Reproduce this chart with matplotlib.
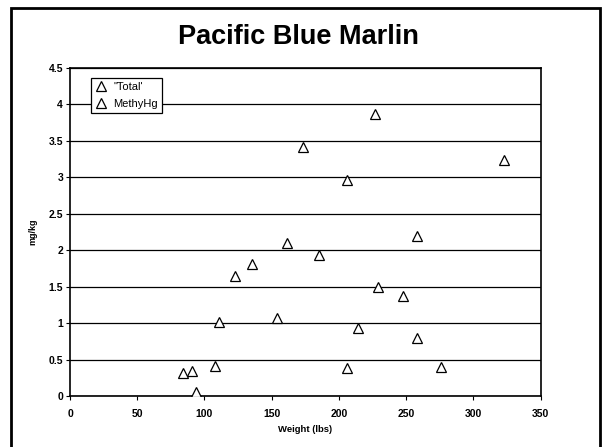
import matplotlib.pyplot as plt
from matplotlib.patches import Rectangle

plt.rcParams['font.family'] = ['Liberation Sans', 'DejaVu Sans']

# --- data ---
weight_lbs = [84, 91, 94, 108, 111, 123, 135, 154, 161, 173, 185,
              206, 206, 214, 227, 229, 248, 258, 258, 276, 323]
hg_mgkg = [0.31, 0.35, 0.055, 0.41, 1.02, 1.65, 1.81, 1.07, 2.10, 3.42, 1.93,
           2.96, 0.39, 0.935, 3.87, 1.50, 1.37, 2.20, 0.80, 0.405, 3.24]
# second series shown only in the legend
methyl_weight = []
methyl_hg = []

x_ticks = [0, 50, 100, 150, 200, 250, 300, 350]
y_ticks = [0, 0.5, 1, 1.5, 2, 2.5, 3, 3.5, 4, 4.5]

fig = plt.figure(figsize=(6.02, 4.47), dpi=100)
ax = fig.add_axes([0.1163, 0.114, 0.7818, 0.734])

ax.plot(weight_lbs, hg_mgkg, linestyle='none', marker='^', ms=7,
        mfc='white', mec='black', mew=0.9, label="\"Total'", zorder=3)
ax.plot(methyl_weight, methyl_hg, linestyle='none', marker='^', ms=7,
        mfc='white', mec='black', mew=0.9, label='MethyHg', zorder=3)

ax.set_xlim(0, 350)
ax.set_ylim(0, 4.5)
ax.set_xticks(x_ticks)
ax.set_yticks(y_ticks)
ax.set_xticklabels([str(v) for v in x_ticks], fontsize=7.5, fontweight='bold')
ax.set_yticklabels([f'{v:g}' for v in y_ticks], fontsize=7.5, fontweight='bold')
ax.tick_params(axis='x', direction='out', length=3, width=0.8, pad=6)
ax.tick_params(axis='y', direction='out', length=3, width=0.8, pad=2)

ax.grid(axis='y', color='black', linewidth=0.9)
ax.set_axisbelow(True)
for s in ax.spines.values():
    s.set_linewidth(1.2)

ax.set_xlabel('Weight (lbs)', fontsize=6.8, fontweight='bold', labelpad=5)
ax.set_ylabel('mg/kg', fontsize=6.5, fontweight='bold', labelpad=8)

fig.text(0.495, 0.918, 'Pacific Blue Marlin', fontsize=19.5, fontweight='bold',
         ha='center', va='center')

leg = ax.legend(loc='upper left', bbox_to_anchor=(0.045, 0.97), fontsize=8,
                frameon=True, fancybox=False, handlelength=1.0,
                handletextpad=0.6, borderpad=0.4, labelspacing=0.6,
                borderaxespad=0)
leg.get_frame().set_edgecolor('black')
leg.get_frame().set_linewidth(0.9)
leg.get_frame().set_alpha(1)

# outer chart frame
fig.patches.append(Rectangle((0.018, -0.02), 0.979, 1.002, transform=fig.transFigure,
                             fill=False, edgecolor='black', linewidth=2))

fig.savefig('out.png', dpi=100)
